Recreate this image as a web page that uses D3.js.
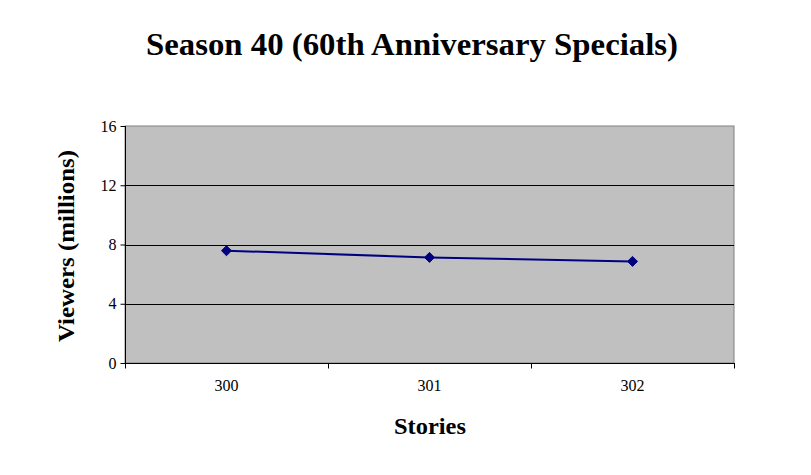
<!DOCTYPE html>
<html>
<head>
<meta charset="utf-8">
<script src="https://cdn.jsdelivr.net/npm/d3@7"></script>
<style>
  html, body { margin: 0; padding: 0; background: #fff; }
  svg { display: block; font-family: "Liberation Serif", "Times New Roman", serif; }
</style>
</head>
<body>
<svg id="chart" width="811" height="475"></svg>
<script>
const stories = ["300", "301", "302"];
const viewers = [7.58, 7.13, 6.86];
const yTicks = [0, 4, 8, 12, 16];
const titleText = "Season 40 (60th Anniversary Specials)";
const xLabel = "Stories";
const yLabel = "Viewers (millions)";

const svg = d3.select("#chart");
const plot = { left: 125, right: 734, top: 126, bottom: 363 };

const x = d3.scaleBand().domain(stories).range([plot.left, plot.right]);
const y = d3.scaleLinear().domain([0, 16]).range([plot.bottom, plot.top]);

// plot background
svg.append("rect")
  .attr("x", plot.left).attr("y", plot.top)
  .attr("width", plot.right - plot.left).attr("height", plot.bottom - plot.top)
  .attr("fill", "#c0c0c0")
  .attr("stroke", "#808080").attr("stroke-width", 1);

// gridlines
svg.append("g").selectAll("line")
  .data(yTicks.filter(d => d > 0 && d < 16))
  .join("line")
  .attr("x1", plot.left).attr("x2", plot.right)
  .attr("y1", d => Math.round(y(d)) + 0.5).attr("y2", d => Math.round(y(d)) + 0.5)
  .attr("stroke", "#000").attr("stroke-width", 1);

// y axis
const yAxis = d3.axisLeft(y).tickValues(yTicks).tickSize(5).tickPadding(4).tickFormat(d3.format("d"));
const gy = svg.append("g").attr("transform", `translate(${plot.left + 0.5},0)`).call(yAxis);
gy.select(".domain").attr("stroke", "#000").attr("d", `M0,${plot.top}V${plot.bottom}`);
gy.selectAll(".tick line").attr("stroke", "#000");
gy.selectAll(".tick text").attr("font-size", 16).attr("fill", "#000")
  .attr("font-family", "Liberation Serif, Times New Roman, serif");

// x axis with ticks at category boundaries
const gx = svg.append("g").attr("transform", `translate(0,${plot.bottom + 0.5})`);
gx.append("line").attr("x1", plot.left).attr("x2", plot.right + 1).attr("y1", 0).attr("y2", 0).attr("stroke", "#000");
const bounds = stories.map(s => x(s)).concat([x(stories[stories.length - 1]) + x.bandwidth()]);
gx.selectAll("line.tk").data(bounds).join("line").attr("class", "tk")
  .attr("x1", d => Math.round(d) + 0.5).attr("x2", d => Math.round(d) + 0.5)
  .attr("y1", 0).attr("y2", 5).attr("stroke", "#000");
gx.selectAll("text").data(stories).join("text")
  .attr("x", d => x(d) + x.bandwidth() / 2)
  .attr("y", 27)
  .attr("text-anchor", "middle")
  .attr("font-size", 16).attr("fill", "#000")
  .text(d => d);

// line
const pts = stories.map((s, i) => [x(s) + x.bandwidth() / 2, y(viewers[i])]);
svg.append("path")
  .datum(pts)
  .attr("d", d3.line())
  .attr("fill", "none")
  .attr("stroke", "#000080")
  .attr("stroke-width", 2);

// diamond markers
svg.append("g").selectAll("path")
  .data(pts)
  .join("path")
  .attr("transform", d => `translate(${d[0]},${d[1]})`)
  .attr("d", d3.symbol().type(d3.symbolDiamond2).size(64))
  .attr("fill", "#000080")
  .attr("stroke", "#000080").attr("stroke-width", 1);

// title
svg.append("text")
  .attr("x", 412).attr("y", 55)
  .attr("text-anchor", "middle")
  .attr("font-size", 32).attr("font-weight", "bold")
  .attr("textLength", 532).attr("lengthAdjust", "spacingAndGlyphs")
  .text(titleText);

// x label
svg.append("text")
  .attr("x", 430).attr("y", 434)
  .attr("text-anchor", "middle")
  .attr("font-size", 24).attr("font-weight", "bold")
  .attr("textLength", 72).attr("lengthAdjust", "spacingAndGlyphs")
  .text(xLabel);

// y label
svg.append("text")
  .attr("transform", "translate(74,246) rotate(-90)")
  .attr("text-anchor", "middle")
  .attr("font-size", 24).attr("font-weight", "bold")
  .attr("textLength", 192).attr("lengthAdjust", "spacingAndGlyphs")
  .text(yLabel);
</script>
</body>
</html>
